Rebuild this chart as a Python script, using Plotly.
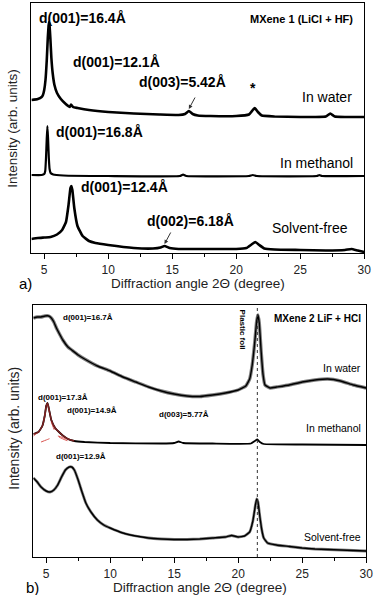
import plotly.graph_objects as go

W, H = 380, 595
FONT = "Liberation Sans, Arial, sans-serif"

# ---------------- Panel a (MXene 1, LiCl + HF) : 2theta (deg) and intensity (arb.) ----------
a_water_x = [4.0, 4.5, 4.8, 4.9, 5.0, 5.1, 5.2, 5.28, 5.34, 5.38, 5.42, 5.48, 5.56, 5.66, 5.8,
             6.0, 6.3, 6.6, 7.0, 7.1, 7.25, 7.6, 8.5, 10, 12, 14, 15.5, 16.0, 16.3, 16.6, 17,
             18, 20, 21.0, 21.3, 21.45, 21.7, 22, 23, 25, 27, 27.35, 27.7, 28.5, 30]
a_water_y = [153, 154, 156, 158, 163, 173, 193, 215, 227, 231, 227, 215, 195, 180, 168,
             160, 154, 150, 146, 148.5, 146, 145, 143, 141, 139.5, 138.5, 138, 139, 142, 139, 137.5,
             137, 137, 138.5, 143, 145, 141, 137.5, 136.5, 136, 136.5, 139.5, 136.5, 136, 136]

a_meoh_x = [4.0, 4.8, 5.0, 5.08, 5.14, 5.2, 5.25, 5.3, 5.36, 5.42, 5.5, 5.7, 6.5, 10, 15.6,
            15.85, 16.1, 21.0, 21.3, 21.6, 26.3, 26.5, 26.7, 30]
a_meoh_y = [78, 78, 79, 82, 95, 115, 127, 115, 95, 84, 80, 78.5, 77.5, 77, 77,
            78.5, 77, 77, 78, 77, 77, 78, 77, 77]

a_dry_x = [4.0, 4.5, 5.0, 5.5, 6.0, 6.4, 6.7, 6.9, 7.05, 7.12, 7.2, 7.35, 7.6, 8.0, 8.5, 9, 10,
           12, 13.5, 14.1, 14.4, 14.8, 15.5, 18, 20, 20.8, 21.2, 21.5, 21.8, 22.2, 23, 25, 27,
           28.5, 29.0, 29.5, 30]
a_dry_y = [14, 15, 15.5, 16, 18.5, 23, 31, 48, 65, 67, 63, 45, 27, 17, 12, 10, 8,
           5, 4.5, 5.5, 7, 5, 4, 4, 4, 5, 8.5, 11, 8, 4.5, 3.5, 3, 2.5,
           3, 4, 2.5, 1]

# ---------------- Panel b (MXene 2, LiF + HCl) ----------------
b_water_x = [4.0, 4.3, 4.6, 4.9, 5.2, 5.4, 5.6, 5.8, 6.0, 6.3, 6.7, 7.0, 7.5, 8.0, 9, 10, 11,
             12, 13, 14, 15, 16, 17, 18, 19, 20, 20.6, 20.9, 21.1, 21.3, 21.45, 21.55, 21.65,
             21.8, 21.95, 22.1, 22.5, 23, 24, 25, 26, 27, 28, 29, 30]
b_water_y = [239, 240, 240, 241, 241, 239, 235, 229, 224, 217, 210, 207, 202, 198, 191, 186, 180,
             175, 170, 166, 163, 161, 160.5, 162, 164, 167, 171, 178, 192, 215, 236, 242, 234,
             205, 182, 172, 169, 170, 172, 175, 177, 178, 176, 172, 169]

b_meoh_x = [4.0, 4.4, 4.7, 4.9, 5.0, 5.1, 5.2, 5.4, 5.7, 6.0, 6.3, 6.7, 7.2, 8, 10, 14, 15.0,
            15.35, 15.7, 18, 21.0, 21.3, 21.5, 21.7, 22, 25, 30]
b_meoh_y = [123, 125, 131, 142, 151, 154, 149, 137, 129, 125, 121.5, 118, 116, 115, 114, 113.5, 114,
            115.5, 114, 113.5, 113.5, 116, 117.5, 115, 113, 112.5, 112]

# Lorentzian fit components of the methanol pattern (17.3 A and 14.9 A)
fit1_x = [4.0, 4.4, 4.7, 4.9, 5.0, 5.1, 5.2, 5.4, 5.7, 6.0, 6.5, 7.0]
fit1_y = [121, 125, 131, 142, 150, 153, 148, 135, 125, 120, 117, 115]
fit2_x = [4.6, 5.0, 5.4, 5.9, 6.3, 6.7, 7.2]
fit2_y = [115, 117, 119, 121, 119.5, 117, 114.5]
fit_sum_x = [4.0, 4.4, 4.7, 4.9, 5.0, 5.1, 5.2, 5.4, 5.7, 6.0, 6.3, 6.7, 7.2]
fit_sum_y = [123, 125, 131, 142, 151, 154, 149, 137, 129, 125, 121.5, 118, 116]

b_dry_x = [4.0, 4.3, 4.6, 5.0, 5.3, 5.6, 5.9, 6.2, 6.5, 6.8, 7.0, 7.2, 7.5, 7.8, 8.1, 8.5, 9,
           9.5, 10, 11, 12, 13, 14, 15, 16, 17, 18, 19, 19.5, 20, 20.5, 20.9, 21.15, 21.35,
           21.45, 21.55, 21.7, 21.85, 22.0, 22.3, 23, 24, 25, 26, 27, 28, 29, 30]
b_dry_y = [79, 75, 70, 66, 65, 67, 72, 80, 87, 90, 90, 87, 77, 65, 54, 45, 37,
           32, 29, 24, 21, 19, 18, 17.5, 17.5, 18, 19, 20, 21.5, 20, 21, 25, 36, 52,
           58, 55, 40, 27, 19, 14, 12, 10.5, 9, 8, 7.5, 7, 6.5, 6]

plastic_foil_2theta = 21.5
x_ticks = [5, 10, 15, 20, 25, 30]

fig = go.Figure()

def line(x, y, xa, ya, width=2.4, color="black", dash="solid", smooth=0.35):
    fig.add_trace(go.Scatter(x=x, y=y, xaxis=xa, yaxis=ya, mode="lines",
                             line=dict(color=color, width=width, dash=dash, shape="spline",
                                       smoothing=smooth),
                             hoverinfo="skip", showlegend=False))

# panel a
line(a_water_x, a_water_y, "x", "y", 2.6)
line(a_meoh_x, a_meoh_y, "x", "y", 2.2)
line(a_dry_x, a_dry_y, "x", "y", 2.6)

# panel b (noisy traces drawn as a thick dark band)
line(b_water_x, b_water_y, "x2", "y2", 3.4, "rgba(40,40,40,0.6)")
line(b_water_x, b_water_y, "x2", "y2", 1.4)
line(b_meoh_x, b_meoh_y, "x2", "y2", 1.8)
line(b_dry_x, b_dry_y, "x2", "y2", 2.8, "rgba(40,40,40,0.6)")
line(b_dry_x, b_dry_y, "x2", "y2", 1.4)
line(fit1_x, fit1_y, "x2", "y2", 1.0, "#d9534f", "dash")
line(fit2_x, fit2_y, "x2", "y2", 1.0, "#d9534f", "dash")
line(fit_sum_x, fit_sum_y, "x2", "y2", 1.5, "#7a1f1f")

def px(xp):
    return xp / W

def py(yp):
    return 1 - yp / H

axis_common = dict(range=[4, 30], showline=True, mirror=True, linecolor="black", linewidth=1.2,
                   ticks="outside", ticklen=5, tickcolor="black", tickvals=x_ticks,
                   tickfont=dict(family=FONT, size=12, color="#222"), showgrid=False, zeroline=False,
                   minor=dict(dtick=2.5, tick0=0, ticks="outside", ticklen=3, tickcolor="black"))
yaxis_common = dict(showline=True, mirror=True, linecolor="black", linewidth=1.2, ticks="",
                    showticklabels=False, showgrid=False, zeroline=False)

fig.update_layout(
    width=W, height=H, autosize=False,
    margin=dict(l=0, r=0, t=0, b=0),
    paper_bgcolor="white", plot_bgcolor="white",
    xaxis=dict(domain=[px(32), px(371)], anchor="y", **axis_common),
    yaxis=dict(domain=[py(253), py(3)], range=[0, 250], anchor="x", **yaxis_common),
    xaxis2=dict(domain=[px(34), px(373)], anchor="y2", **axis_common),
    yaxis2=dict(domain=[py(557), py(305)], range=[0, 252], anchor="x2", **yaxis_common),
)

fig.add_shape(type="line", xref="x2", yref="y2 domain", x0=plastic_foil_2theta, x1=plastic_foil_2theta,
              y0=0, y1=1, line=dict(color="#333", width=1, dash="dot"))

ann = []

def text(t, xp, yp, size, bold=False, xanchor="left", angle=0, color="black"):
    ann.append(dict(text=f"<b>{t}</b>" if bold else t, x=px(xp), y=py(yp), xref="paper", yref="paper",
                    xanchor=xanchor, yanchor="middle", showarrow=False, textangle=angle,
                    font=dict(family=FONT, size=size, color=color)))

# panel a labels
text("d(001)=16.4Å", 38, 18, 14, True)
text("d(001)=12.1Å", 72, 62, 14, True)
text("d(003)=5.42Å", 140, 82, 14, True)
text("*", 258, 88, 14, True, "center")
text("In water", 361, 97, 14, False, "right")
text("MXene 1 (LiCl + HF)", 362, 19, 11, True, "right")
text("d(001)=16.8Å", 55, 132, 14, True)
text("In methanol", 362, 163, 14, False, "right")
text("d(001)=12.4Å", 80, 187, 14, True)
text("d(002)=6.18Å", 148, 221, 14, True)
text("Solvent-free", 357, 228, 14, False, "right")
text("a)", 17, 283, 15, False)
text("Diffraction angle 2Θ (degree)", 201.5, 283, 13.5, False, "center", color="#222")
text("Intensity (arb. units)", 12, 128, 13.5, False, "center", -90, "#222")

# panel b labels
text("d(001)=16.7Å", 62, 317, 8, True)
text("MXene 2 LiF + HCl", 370, 318, 10, True, "right")
text("Plastic foil", 248, 330, 8, True, "center", 90)
text("In water", 370, 368, 10.5, False, "right")
text("d(001)=17.3Å", 37, 397, 8, True)
text("d(001)=14.9Å", 66, 410, 8, True)
text("d(003)=5.77Å", 160, 414, 8, True)
text("In methanol", 370, 428, 10.5, False, "right")
text("d(001)=12.9Å", 55, 456, 8, True)
text("Solvent-free", 370, 537, 10.5, False, "right")
text("b)", 24, 587, 15, False)
text("Diffraction angle 2Θ (degree)", 203.5, 587, 13.5, False, "center", color="#222")
text("Intensity (arb. units)", 14, 428, 14, False, "center", -90, "#222")

# arrows pointing at weak reflections (panel a)
for xh, yh in [(16.3, 144), (14.4, 9)]:
    ann.append(dict(x=xh, y=yh, xref="x", yref="y", ax=7, ay=-13, showarrow=True,
                    arrowhead=2, arrowsize=0.8, arrowwidth=1, arrowcolor="#333", text=""))

fig.update_layout(annotations=ann)
fig.write_html("out.html", config={"displayModeBar": False},
               post_script="document.body.style.margin='0';")
